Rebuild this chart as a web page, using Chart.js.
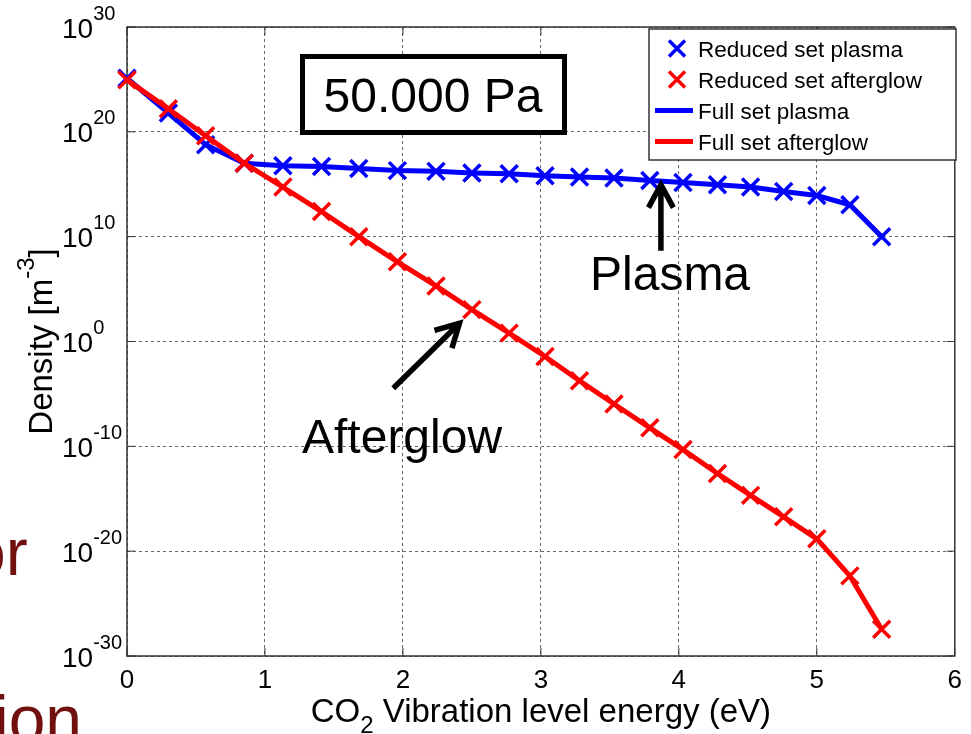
<!DOCTYPE html>
<html>
<head>
<meta charset="utf-8">
<title>CO2 vibrational distribution, 50.000 Pa</title>
<script src="https://cdn.jsdelivr.net/npm/chart.js@4.4.1/dist/chart.umd.min.js"></script>
<style>
  html, body { margin: 0; padding: 0; background: #fff; }
  #wrap { width: 971px; height: 734px; }
</style>
</head>
<body>
<div id="wrap"><canvas id="vdf" width="971" height="734"></canvas></div>
<script>
// vibrational level energies (eV)
const levelEnergy = [0, 0.30, 0.57, 0.85, 1.13, 1.41, 1.68, 1.96, 2.24, 2.50, 2.77,
                     3.03, 3.28, 3.53, 3.79, 4.03, 4.28, 4.52, 4.76, 5.00, 5.24, 5.47];

// level densities (m^-3) in the plasma
const plasmaDensity = [1.3e25, 6.2e21, 5.9e18, 1.0e17, 5.9e16, 5.0e16, 3.2e16, 2.0e16,
                       1.7e16, 1.2e16, 1.0e16, 6.5e15, 4.9e15, 3.9e15, 2.3e15, 1.5e15,
                       8.9e14, 5.4e14, 2.0e14, 8.5e13, 1.1e13, 1.0e10];

// level densities (m^-3) in the afterglow
const afterglowDensity = [9.0e24, 1.6e22, 4.3e19, 1.0e17, 5.4e14, 2.5e12, 1.0e10, 4.0e7,
                          2.0e5, 1.1e3, 6.3, 3.7e-2, 1.8e-4, 1.1e-6, 5.8e-9, 4.9e-11,
                          2.6e-13, 2.1e-15, 1.9e-17, 1.5e-19, 4.4e-23, 3.5e-28];

const xTicks = [0, 1, 2, 3, 4, 5, 6];
const yTickExponents = [-30, -20, -10, 0, 10, 20, 30];

const FONT = '"Liberation Sans", Arial, Helvetica, sans-serif';
const BLUE = '#0000ff';
const RED = '#ff0000';

const toPoints = ys => levelEnergy.map((x, i) => ({ x: x, y: ys[i] }));

// white page plus the bits of slide text peeking out on the left
const backdrop = {
  id: 'backdrop',
  beforeDraw(chart) {
    const ctx = chart.ctx;
    ctx.save();
    ctx.fillStyle = '#fff';
    ctx.fillRect(0, 0, chart.width, chart.height);
    ctx.fillStyle = '#70100f';
    ctx.font = '66px ' + FONT;
    ctx.textAlign = 'left';
    ctx.textBaseline = 'alphabetic';
    ctx.fillText('or', -31, 575);
    ctx.fillText('ion', -6, 742);
    ctx.restore();
  }
};

// box around the axes with inward tick marks
const frame = {
  id: 'frame',
  beforeDatasetsDraw(chart) {
    const { ctx, chartArea: a, scales } = chart;
    ctx.save();
    ctx.strokeStyle = '#333';
    ctx.lineWidth = 1.5;
    ctx.strokeRect(a.left, a.top, a.right - a.left, a.bottom - a.top);
    ctx.lineWidth = 1;
    ctx.beginPath();
    xTicks.forEach(v => {
      const px = scales.x.getPixelForValue(v);
      ctx.moveTo(px, a.bottom); ctx.lineTo(px, a.bottom - 8);
      ctx.moveTo(px, a.top); ctx.lineTo(px, a.top + 8);
    });
    yTickExponents.forEach(e => {
      const py = scales.y.getPixelForValue(Math.pow(10, e));
      ctx.moveTo(a.left, py); ctx.lineTo(a.left + 8, py);
      ctx.moveTo(a.right, py); ctx.lineTo(a.right - 8, py);
    });
    ctx.stroke();
    ctx.restore();
  }
};

function arrow(ctx, x0, y0, x1, y1) {
  const ang = Math.atan2(y1 - y0, x1 - x0);
  const head = 26, spread = 0.5;
  ctx.beginPath();
  ctx.moveTo(x0, y0);
  ctx.lineTo(x1, y1);
  ctx.moveTo(x1 - head * Math.cos(ang - spread), y1 - head * Math.sin(ang - spread));
  ctx.lineTo(x1, y1);
  ctx.lineTo(x1 - head * Math.cos(ang + spread), y1 - head * Math.sin(ang + spread));
  ctx.stroke();
}

// pressure label and the two arrowed captions
const notes = {
  id: 'notes',
  afterDatasetsDraw(chart) {
    const { ctx, scales: { x, y } } = chart;
    ctx.save();
    ctx.fillStyle = '#fff';
    ctx.fillRect(302, 56, 263, 77);
    ctx.strokeStyle = '#000';
    ctx.lineWidth = 5;
    ctx.strokeRect(302.5, 56.5, 262, 76);
    ctx.fillStyle = '#000';
    ctx.font = '48px ' + FONT;
    ctx.textAlign = 'center';
    ctx.textBaseline = 'alphabetic';
    ctx.fillText('50.000 Pa', 433, 112);

    ctx.textAlign = 'left';
    ctx.fillText('Plasma', 590, 290);
    ctx.fillText('Afterglow', 302, 453);

    ctx.lineWidth = 5.5;
    ctx.lineCap = 'butt';
    ctx.lineJoin = 'miter';
    arrow(ctx, x.getPixelForValue(3.87), y.getPixelForValue(4.6e8),
               x.getPixelForValue(3.87), y.getPixelForValue(8.9e14));
    arrow(ctx, x.getPixelForValue(1.93), y.getPixelForValue(3.5e-5),
               x.getPixelForValue(2.41), y.getPixelForValue(5.5e1));
    ctx.restore();
  }
};

// boxed legend in the upper right corner
const boxLegend = {
  id: 'boxLegend',
  afterDraw(chart) {
    const ctx = chart.ctx;
    const left = 649, top = 29, w = 307, h = 131;
    ctx.save();
    ctx.fillStyle = '#fff';
    ctx.fillRect(left, top, w, h);
    ctx.strokeStyle = '#333';
    ctx.lineWidth = 1.5;
    ctx.strokeRect(left, top, w, h);
    chart.data.datasets.forEach((ds, i) => {
      const cy = 48.5 + i * 31;
      ctx.strokeStyle = ds.borderColor;
      if (ds.showLine) {
        ctx.lineWidth = 5;
        ctx.beginPath();
        ctx.moveTo(655, cy); ctx.lineTo(693, cy);
        ctx.stroke();
      } else {
        ctx.lineWidth = 3.5;
        ctx.beginPath();
        ctx.moveTo(669, cy - 8); ctx.lineTo(685, cy + 8);
        ctx.moveTo(669, cy + 8); ctx.lineTo(685, cy - 8);
        ctx.stroke();
      }
      ctx.fillStyle = '#000';
      ctx.font = '22.5px ' + FONT;
      ctx.textAlign = 'left';
      ctx.textBaseline = 'alphabetic';
      ctx.fillText(ds.label, 698, cy + 8);
    });
    ctx.restore();
  }
};

// power-of-ten tick labels and axis titles with sub/superscripts
const axisText = {
  id: 'axisText',
  afterDraw(chart) {
    const { ctx, chartArea: a, scales: { y } } = chart;
    ctx.save();
    ctx.fillStyle = '#000';
    ctx.textAlign = 'left';
    ctx.textBaseline = 'alphabetic';
    yTickExponents.forEach(e => {
      const py = y.getPixelForValue(Math.pow(10, e));
      ctx.font = '28px ' + FONT;
      ctx.fillText('10', 62, py + 10.5);
      const w = ctx.measureText('10').width;
      ctx.font = '20px ' + FONT;
      ctx.fillText(String(e), 62 + w, py - 7.5);
    });

    // x title: CO2 with subscript
    const main = '33px ' + FONT, small = '24px ' + FONT;
    const xParts = [['CO', main, 0], ['2', small, 11], [' Vibration level energy (eV)', main, 0]];
    let total = 0;
    xParts.forEach(p => { ctx.font = p[1]; total += ctx.measureText(p[0]).width; });
    let cx = (a.left + a.right) / 2 - total / 2;
    xParts.forEach(p => {
      ctx.font = p[1];
      ctx.fillText(p[0], cx, 722 + p[2]);
      cx += ctx.measureText(p[0]).width;
    });

    // y title: Density [m^-3]
    const yParts = [['Density [m', main, 0], ['-3', small, -18], [']', main, 0]];
    total = 0;
    yParts.forEach(p => { ctx.font = p[1]; total += ctx.measureText(p[0]).width; });
    ctx.translate(51.5, (a.top + a.bottom) / 2);
    ctx.rotate(-Math.PI / 2);
    cx = -total / 2;
    yParts.forEach(p => {
      ctx.font = p[1];
      ctx.fillText(p[0], cx, p[2]);
      cx += ctx.measureText(p[0]).width;
    });
    ctx.restore();
  }
};

const gridStyle = { color: 'rgba(0,0,0,0.6)', lineWidth: 1, drawTicks: false };

const ctx = document.getElementById('vdf').getContext('2d');
const vdfChart = new Chart(ctx, {
  type: 'scatter',
  data: {
    datasets: [
      { label: 'Reduced set plasma', data: toPoints(plasmaDensity), showLine: false,
        pointStyle: 'crossRot', pointRadius: 12, pointBorderWidth: 3.5,
        borderColor: BLUE, backgroundColor: BLUE, clip: false, order: 3 },
      { label: 'Reduced set afterglow', data: toPoints(afterglowDensity), showLine: false,
        pointStyle: 'crossRot', pointRadius: 12, pointBorderWidth: 3.5,
        borderColor: RED, backgroundColor: RED, clip: false, order: 1 },
      { label: 'Full set plasma', data: toPoints(plasmaDensity), showLine: true,
        pointRadius: 0, borderWidth: 5, borderColor: BLUE, backgroundColor: BLUE,
        clip: false, order: 4 },
      { label: 'Full set afterglow', data: toPoints(afterglowDensity), showLine: true,
        pointRadius: 0, borderWidth: 5, borderColor: RED, backgroundColor: RED,
        clip: false, order: 2 }
    ]
  },
  options: {
    responsive: false,
    devicePixelRatio: 1,
    animation: false,
    events: [],
    layout: { padding: { top: 27, right: 11, left: 0, bottom: 0 } },
    plugins: { legend: { display: false }, tooltip: { enabled: false } },
    scales: {
      x: {
        type: 'linear', min: 0, max: 6,
        afterBuildTicks: s => { s.ticks = xTicks.map(v => ({ value: v })); },
        ticks: { color: '#000', font: { family: FONT, size: 26 }, padding: 9, maxRotation: 0 },
        grid: gridStyle,
        border: { display: false, dash: [3, 3] },
        afterFit: s => { s.height = 78; }
      },
      y: {
        type: 'logarithmic', min: 1e-30, max: 1e30,
        afterBuildTicks: s => { s.ticks = yTickExponents.map(e => ({ value: Math.pow(10, e) })); },
        ticks: { display: false },
        grid: gridStyle,
        border: { display: false, dash: [3, 3] },
        afterFit: s => { s.width = 127; }
      }
    }
  },
  plugins: [backdrop, frame, notes, boxLegend, axisText]
});
</script>
</body>
</html>
